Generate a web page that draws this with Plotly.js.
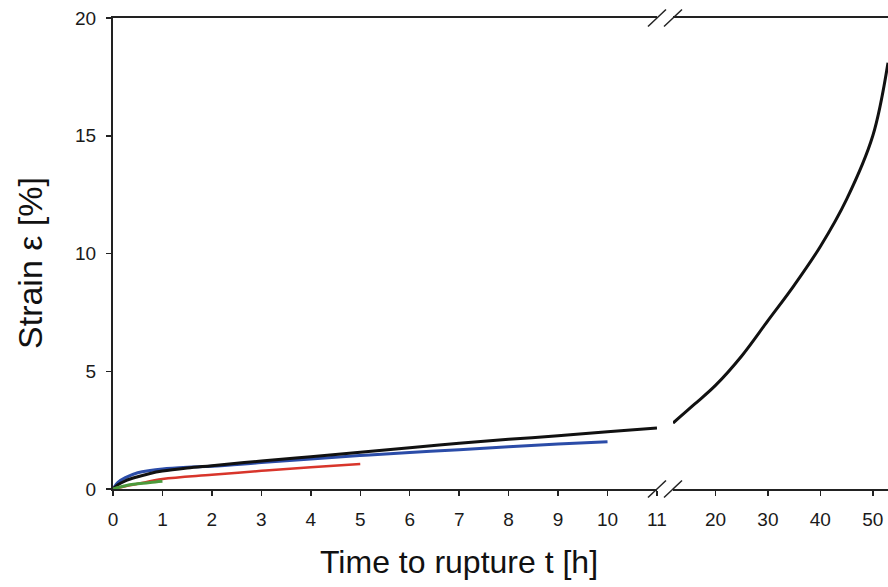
<!DOCTYPE html>
<html>
<head>
<meta charset="utf-8">
<script src="https://cdn.plot.ly/plotly-3.0.1.min.js"></script>
<style>html,body{margin:0;padding:0;background:#fff;}#chart{width:888px;height:587px;}</style>
</head>
<body>
<div id="chart"></div>
<script>
// Time to rupture t [h] (left, linear segment 0..11)
const blackT1 = [0, 0.1, 0.25, 0.5, 0.75, 1, 1.5, 2, 3, 4, 5, 6, 7, 8, 9, 10, 11];
const blackS1 = [0, 0.18, 0.35, 0.52, 0.66, 0.76, 0.89, 0.99, 1.19, 1.37, 1.56, 1.75, 1.94, 2.11, 2.26, 2.43, 2.59];
// black curve after the axis break (compressed scale)
const blackT2 = [11.9, 16, 20, 25, 30, 35, 40, 45, 50, 52.9];
const blackS2 = [2.8, 3.6, 4.4, 5.65, 7.15, 8.65, 10.3, 12.3, 15.0, 18.1];
const blueT = [0, 0.1, 0.25, 0.5, 0.75, 1, 1.5, 2, 3, 4, 5, 6, 7, 8, 9, 10];
const blueS = [0, 0.28, 0.48, 0.69, 0.79, 0.85, 0.92, 0.97, 1.12, 1.27, 1.42, 1.55, 1.67, 1.79, 1.91, 2.01];
const redT = [0, 0.25, 0.5, 1, 2, 3, 4, 5];
const redS = [0, 0.12, 0.22, 0.42, 0.6, 0.77, 0.92, 1.06];
const greenT = [0, 0.25, 0.5, 0.75, 1];
const greenS = [0, 0.14, 0.22, 0.28, 0.33];
const xTicks1 = [0, 1, 2, 3, 4, 5, 6, 7, 8, 9, 10, 11];
const xTicks2 = [20, 30, 40, 50];
const yTicks = [0, 5, 10, 15, 20];

const FONT = '"Liberation Sans", Arial, sans-serif';
const dom1 = [0, 0.7019];
const dom2 = [0.7226, 1];

const traces = [
  {x: blueT, y: blueS, xaxis: 'x', yaxis: 'y', mode: 'lines', line: {color: '#2b4ca8', width: 3, shape: 'spline'}},
  {x: blackT1, y: blackS1, xaxis: 'x', yaxis: 'y', mode: 'lines', line: {color: '#111', width: 3, shape: 'spline'}},
  {x: redT, y: redS, xaxis: 'x', yaxis: 'y', mode: 'lines', line: {color: '#d8352b', width: 2.5, shape: 'spline'}},
  {x: greenT, y: greenS, xaxis: 'x', yaxis: 'y', mode: 'lines', line: {color: '#4c9a3c', width: 3, shape: 'spline'}},
  {x: blackT2, y: blackS2, xaxis: 'x2', yaxis: 'y', mode: 'lines', line: {color: '#111', width: 3, shape: 'spline', smoothing: 1}}
];

function brk(xp, yp) {
  return {type: 'line', xref: 'paper', yref: 'paper', xsizemode: 'pixel', ysizemode: 'pixel',
    xanchor: xp, yanchor: yp, x0: -9, x1: 9, y0: -8.5, y1: 8.5, line: {color: '#222', width: 1.5}};
}

const axCommon = {showline: true, linecolor: '#222', linewidth: 2, mirror: true, ticks: 'outside',
  ticklen: 5, tickwidth: 1.5, tickcolor: '#222', showgrid: false, zeroline: false,
  tickfont: {family: FONT, size: 19, color: '#1a1a1a'}, ticklabelstandoff: 7, fixedrange: true};

const layout = {
  width: 888, height: 587,
  margin: {l: 113, r: 0, t: 18, b: 98},
  paper_bgcolor: '#fff', plot_bgcolor: '#fff',
  showlegend: false,
  xaxis: Object.assign({}, axCommon, {domain: dom1, range: [0, 11], tickvals: xTicks1, anchor: 'y'}),
  xaxis2: Object.assign({}, axCommon, {domain: dom2, range: [11.9, 52.9], tickvals: xTicks2, anchor: 'y'}),
  yaxis: Object.assign({}, axCommon, {mirror: false, range: [0, 20], tickvals: yTicks, anchor: 'x', ticklabelstandoff: 6}),
  shapes: [brk(dom1[1], 0), brk(dom2[0], 0), brk(dom1[1], 1), brk(dom2[0], 1)],
  annotations: [
    {text: 'Time to rupture t [h]', xref: 'paper', yref: 'paper', x: 0.446, y: -0.155, xanchor: 'center', yanchor: 'middle', showarrow: false, font: {family: FONT, size: 32, color: '#111'}},
    {text: 'Strain \u03b5 [%]', xref: 'paper', yref: 'paper', x: -0.107, y: 0.48, xanchor: 'center', yanchor: 'middle', textangle: -90, showarrow: false, font: {family: FONT, size: 34, color: '#111'}}
  ]
};

Plotly.newPlot('chart', traces, layout, {staticPlot: true, displayModeBar: false});
</script>
</body>
</html>
